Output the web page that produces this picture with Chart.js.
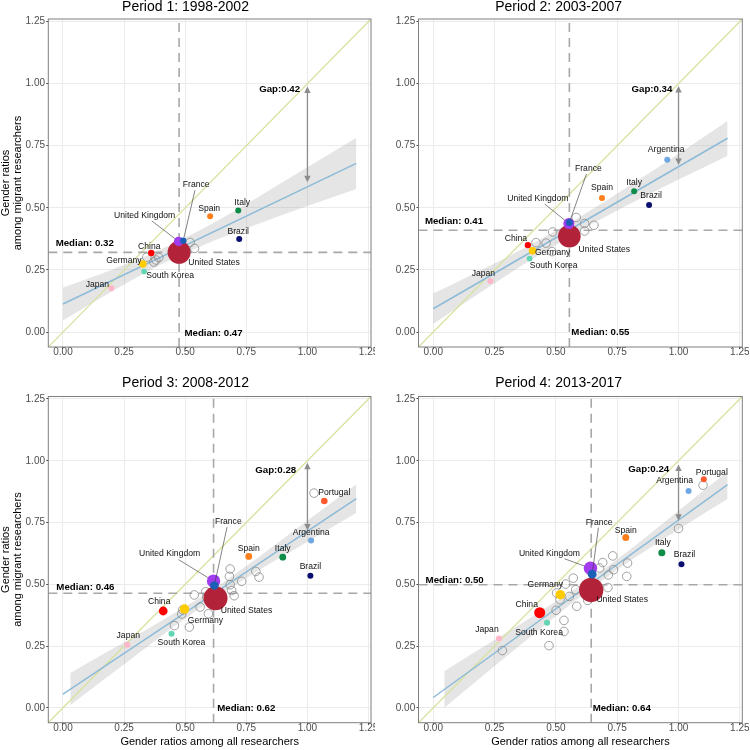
<!DOCTYPE html>
<html>
<head>
<meta charset="utf-8">
<script src="https://cdn.jsdelivr.net/npm/chart.js@4/dist/chart.umd.min.js"></script>
<style>
  body { margin: 0; background: #fff; }
  #wrap { position: relative; width: 750px; height: 750px; }
  canvas { position: absolute; }
</style>
</head>
<body>
<div id="wrap">
  <canvas id="c0" width="375" height="375" style="left:0;top:0"></canvas>
  <canvas id="c1" width="375" height="375" style="left:375px;top:0"></canvas>
  <canvas id="c2" width="375" height="375" style="left:0;top:375px"></canvas>
  <canvas id="c3" width="375" height="375" style="left:375px;top:375px"></canvas>
</div>
<script>
const tickValues = [0, 0.25, 0.5, 0.75, 1.0, 1.25];
const axisMin = -0.06, axisMax = 1.26;

const periods = ['Period 1: 1998-2002', 'Period 2: 2003-2007', 'Period 3: 2008-2012', 'Period 4: 2013-2017'];
const countries = ['United States', 'United Kingdom', 'France', 'China', 'Germany', 'South Korea',
                   'Japan', 'Spain', 'Italy', 'Brazil', 'Argentina', 'Portugal'];

// gender ratio among all researchers (x), one row per period, country order as above
const allRatio = [
    [0.475, 0.473, 0.492, 0.361, 0.327, 0.332, 0.198, 0.602, 0.717, 0.721, null, null],
    [0.555, 0.553, 0.555, 0.386, 0.405, 0.393, 0.233, 0.688, 0.819, 0.880, 0.954, null],
    [0.624, 0.616, 0.619, 0.410, 0.497, 0.444, 0.263, 0.760, 0.899, 1.012, 1.015, 1.069],
    [0.644, 0.641, 0.648, 0.434, 0.518, 0.464, 0.268, 0.785, 0.932, 1.012, 1.041, 1.103]
];
// gender ratio among migrant researchers (y)
const migRatio = [
    [0.321, 0.365, 0.368, 0.318, 0.274, 0.244, 0.176, 0.466, 0.489, 0.375, null, null],
    [0.386, 0.437, 0.441, 0.350, 0.327, 0.296, 0.206, 0.540, 0.567, 0.511, 0.694, null],
    [0.444, 0.513, 0.495, 0.392, 0.400, 0.300, 0.255, 0.613, 0.610, 0.535, 0.677, 0.837],
    [0.477, 0.565, 0.541, 0.385, 0.458, 0.344, 0.281, 0.689, 0.628, 0.581, 0.878, 0.925]
];
// bubble size (researcher volume), read as radius
const bubble = [
    [11.5, 4.7, 3.2, 3.2, 3.8, 2.8, 3.0, 3.0, 3.0, 3.0, null, null],
    [11.3, 5.5, 3.5, 3.2, 3.8, 2.9, 3.0, 3.0, 3.0, 3.0, 3.0, null],
    [12.0, 6.7, 4.3, 4.4, 4.8, 3.0, 3.0, 3.4, 3.4, 3.0, 3.0, 3.3],
    [12.2, 6.7, 4.4, 5.5, 4.8, 3.0, 3.0, 3.5, 3.5, 3.0, 3.0, 3.0]
];

// unlabelled countries (hollow circles)
const otherAll = [
    [0.343, 0.372, 0.380, 0.392, 0.520, 0.538],
    [0.487, 0.419, 0.460, 0.484, 0.583, 0.617, 0.617, 0.655],
    [1.027, 0.684, 0.681, 0.731, 0.684, 0.789, 0.802, 0.690, 0.700, 0.537, 0.584, 0.561, 0.595, 0.486, 0.456, 0.517, 0.490, 0.588],
    [1.100, 1.000, 0.732, 0.691, 0.792, 0.678, 0.735, 0.714, 0.789, 0.712, 0.571, 0.540, 0.555, 0.581, 0.585, 0.630, 0.501, 0.533, 0.533, 0.472, 0.282, 0.503, 0.517]
];
const otherMig = [
    [0.301, 0.282, 0.290, 0.300, 0.361, 0.337],
    [0.403, 0.360, 0.358, 0.324, 0.461, 0.437, 0.407, 0.430],
    [0.869, 0.562, 0.532, 0.512, 0.498, 0.552, 0.529, 0.475, 0.454, 0.457, 0.470, 0.408, 0.381, 0.380, 0.333, 0.327, 0.397, 0.448],
    [0.901, 0.726, 0.615, 0.588, 0.586, 0.566, 0.559, 0.538, 0.532, 0.487, 0.525, 0.501, 0.451, 0.478, 0.411, 0.435, 0.395, 0.354, 0.309, 0.252, 0.232, 0.465, 0.438]
];

const medAll = [0.475, 0.555, 0.616, 0.644];
const medMig = [0.321, 0.410, 0.464, 0.498];
const medAllText = ['0.47', '0.55', '0.62', '0.64'];
const medMigText = ['0.32', '0.41', '0.46', '0.50'];

// fitted line and its confidence band
const fitX = [0, 1.2];
const fitY = [[0.113, 0.679], [0.094, 0.780], [0.056, 0.847], [0.042, 0.903]];
const bandX = [
    [0, 0.2, 0.4, 0.6, 0.8, 1.0, 1.2],
    [0, 0.2, 0.4, 0.6, 0.8, 1.0, 1.2],
    [0.03, 0.2, 0.4, 0.6, 0.8, 1.0, 1.2],
    [0.045, 0.2, 0.4, 0.6, 0.8, 1.0, 1.2]
];
const bandHi = [
    [0.179, 0.251, 0.332, 0.431, 0.545, 0.663, 0.782],
    [0.155, 0.252, 0.354, 0.465, 0.589, 0.718, 0.850],
    [0.141, 0.237, 0.351, 0.471, 0.610, 0.758, 0.905],
    [0.148, 0.244, 0.367, 0.496, 0.639, 0.798, 0.955]
];
const bandLo = [
    [0.047, 0.163, 0.272, 0.361, 0.436, 0.507, 0.576],
    [0.033, 0.164, 0.292, 0.409, 0.515, 0.614, 0.710],
    [0.011, 0.139, 0.289, 0.431, 0.556, 0.672, 0.790],
    [0.000, 0.128, 0.291, 0.450, 0.593, 0.722, 0.845]
];

// gap arrow at x = 1
const gapText = ['0.42', '0.34', '0.28', '0.24'];
const gapTop = [0.988, 0.990, 0.992, 0.985];
const gapBottom = [0.603, 0.672, 0.718, 0.757];

// ---- styling / layout ----
const countryColors = ['#b2233a', '#a23cef', '#1c5fb6', '#ff0000', '#ffcc00', '#62d6b4',
                       '#ffb6c9', '#ff7f1c', '#0e8c48', '#0b1070', '#6fa7e2', '#ff5b2e'];

// label offsets in px from the point centre
const labelOffset = [
    [[35, 10], [-34, -26], [13, -56], [-2, -6], [-19, -3], [26, 4], [-14, -4], [-1, -8], [4, -8], [-1, -7]],
    [[35, 13], [-31, -25], [19, -54], [-12, -6], [20, 2], [24, 7], [-7, -7], [0, -10], [0, -9], [2, -9], [-1, -10]],
    [[31, 12], [-44, -27], [14, -64], [-4, -9], [21, 12], [10, 9], [1, -9], [0, -8], [0, -9], [0, -9], [0, -8], [10, -8]],
    [[31, 10], [-41, -15], [7, -52], [-13, -8], [-15, -10], [-8, 10], [-12, -9], [0, -7], [1, -10], [3, -10], [-14, -10], [8, -7]]
];
const medLabelPos = [
    { hx: -0.030, hy: 0.358, vx: 0.497, vy: -0.004, gx: 0.970, gy: 0.975 },
    { hx: -0.034, hy: 0.445, vx: 0.563, vy: -0.001, gx: 0.975, gy: 0.976 },
    { hx: -0.027, hy: 0.487, vx: 0.631, vy: 0.000, gx: 0.954, gy: 0.962 },
    { hx: -0.031, hy: 0.517, vx: 0.650, vy: 0.000, gx: 0.962, gy: 0.964 }
];
const panelBox = [
    { yW: 48.3, padR: 4, titleTop: 0.5, titlePad: 4.5, xH: 28 },
    { yW: 43.5, padR: 7.7, titleTop: 0.5, titlePad: 4.5, xH: 28 },
    { yW: 48.3, padR: 4, titleTop: 0.8, titlePad: 6.7, xH: 27.3 },
    { yW: 43.5, padR: 7.7, titleTop: 0.8, titlePad: 6.7, xH: 27.3 }
];

const FONT = '"Liberation Sans", Arial, sans-serif';
Chart.defaults.font.family = FONT;
Chart.defaults.color = '#4d4d4d';

function arrowHead(ctx, x, y, dir) {
    ctx.beginPath();
    ctx.moveTo(x, y);
    ctx.lineTo(x - 3.2, y + dir * 6.5);
    ctx.lineTo(x + 3.2, y + dir * 6.5);
    ctx.closePath();
    ctx.fill();
}

const annotate = {
    id: 'annotate',
    afterDatasetsDraw(chart, args, opts) {
        const i = opts.period;
        const { ctx, chartArea: a, scales: { x, y } } = chart;
        ctx.save();

        // gap arrow
        const ax = x.getPixelForValue(1);
        const yt = y.getPixelForValue(gapTop[i]);
        const yb = y.getPixelForValue(gapBottom[i]);
        ctx.strokeStyle = '#8c8c8c';
        ctx.fillStyle = '#8c8c8c';
        ctx.lineWidth = 1.3;
        ctx.beginPath();
        ctx.moveTo(ax, yt + 5);
        ctx.lineTo(ax, yb - 5);
        ctx.stroke();
        arrowHead(ctx, ax, yt, 1);
        arrowHead(ctx, ax, yb, -1);

        // country labels (with leader lines for UK and France)
        ctx.font = '8.6px ' + FONT;
        ctx.textAlign = 'center';
        ctx.textBaseline = 'middle';
        countries.forEach((name, k) => {
            if (allRatio[i][k] == null) return;
            const px = x.getPixelForValue(allRatio[i][k]);
            const py = y.getPixelForValue(migRatio[i][k]);
            const [dx, dy] = labelOffset[i][k];
            const lx = px + dx, ly = py + dy;
            if (k === 1 || k === 2) {
                const vx = px - lx, vy = py - ly;
                const len = Math.hypot(vx, vy);
                const hw = ctx.measureText(name).width / 2 + 1, hh = 5.5;
                const t = Math.min(hw / Math.abs(vx || 1e-6), hh / Math.abs(vy || 1e-6));
                ctx.strokeStyle = '#333';
                ctx.lineWidth = 0.6;
                ctx.beginPath();
                ctx.moveTo(lx + vx * t, ly + vy * t);
                ctx.lineTo(px - vx / len * bubble[i][k], py - vy / len * bubble[i][k]);
                ctx.stroke();
            }
            ctx.fillStyle = '#111';
            ctx.fillText(name, lx, ly);
        });

        // median and gap labels
        const m = medLabelPos[i];
        ctx.font = 'bold 9.7px ' + FONT;
        ctx.fillStyle = '#000';
        ctx.textAlign = 'left';
        ctx.fillText('Median: ' + medMigText[i], x.getPixelForValue(m.hx), y.getPixelForValue(m.hy));
        ctx.fillText('Median: ' + medAllText[i], x.getPixelForValue(m.vx), y.getPixelForValue(m.vy));
        ctx.textAlign = 'right';
        ctx.fillText('Gap:' + gapText[i], x.getPixelForValue(m.gx), y.getPixelForValue(m.gy));

        // panel border
        ctx.strokeStyle = '#7f7f7f';
        ctx.lineWidth = 1;
        ctx.strokeRect(a.left, a.top, a.right - a.left, a.bottom - a.top);
        ctx.restore();
    }
};

function makePanel(i) {
    const box = panelBox[i];
    const leftCol = i % 2 === 0;
    const bottomRow = i >= 2;

    const pts = countries
        .map((c, k) => ({ x: allRatio[i][k], y: migRatio[i][k], k }))
        .filter(p => p.x != null);
    const others = otherAll[i].map((v, j) => ({ x: v, y: otherMig[i][j] }));

    new Chart(document.getElementById('c' + i).getContext('2d'), {
        type: 'scatter',
        data: {
            datasets: [
                {
                    data: pts,
                    pointRadius: pts.map(p => bubble[i][p.k]),
                    pointBackgroundColor: pts.map(p => countryColors[p.k]),
                    pointBorderWidth: 0
                },
                {
                    data: others,
                    pointRadius: 4.3,
                    pointBackgroundColor: 'rgba(0,0,0,0)',
                    pointBorderColor: '#8a8a8a',
                    pointBorderWidth: 0.8
                },
                {
                    type: 'line',
                    data: [{ x: medAll[i], y: axisMin }, { x: medAll[i], y: axisMax }],
                    borderColor: '#a8a8a8',
                    borderWidth: 1.6,
                    borderDash: [9, 6],
                    pointRadius: 0
                },
                {
                    type: 'line',
                    data: [{ x: axisMin, y: medMig[i] }, { x: axisMax, y: medMig[i] }],
                    borderColor: '#a8a8a8',
                    borderWidth: 1.6,
                    borderDash: [9, 6],
                    pointRadius: 0
                },
                {
                    type: 'line',
                    data: fitX.map((v, j) => ({ x: v, y: fitY[i][j] })),
                    borderColor: '#8dbbd8',
                    borderWidth: 1.5,
                    pointRadius: 0
                },
                {
                    type: 'line',
                    data: [{ x: axisMin, y: axisMin }, { x: axisMax, y: axisMax }],
                    borderColor: '#d8e2a0',
                    borderWidth: 1.3,
                    pointRadius: 0
                },
                {
                    type: 'line',
                    data: bandX[i].map((v, j) => ({ x: v, y: bandHi[i][j] })),
                    borderWidth: 0,
                    pointRadius: 0,
                    cubicInterpolationMode: 'monotone',
                    fill: '+1',
                    backgroundColor: 'rgba(153,153,153,0.25)'
                },
                {
                    type: 'line',
                    data: bandX[i].map((v, j) => ({ x: v, y: bandLo[i][j] })),
                    borderWidth: 0,
                    pointRadius: 0,
                    cubicInterpolationMode: 'monotone',
                    fill: false
                }
            ]
        },
        options: {
            responsive: false,
            animation: false,
            events: [],
            layout: { autoPadding: false, padding: { left: 0, right: box.padR, top: 0, bottom: 0 } },
            plugins: {
                legend: { display: false },
                tooltip: { enabled: false },
                title: {
                    display: true,
                    text: periods[i],
                    color: '#000',
                    font: { size: 14, weight: 'normal', lineHeight: 1 },
                    padding: { top: box.titleTop, bottom: box.titlePad }
                },
                annotate: { period: i }
            },
            scales: {
                x: {
                    type: 'linear',
                    min: axisMin,
                    max: axisMax,
                    afterBuildTicks: s => { s.ticks = tickValues.map(v => ({ value: v })); },
                    afterFit: s => { s.height = box.xH; s.paddingLeft = 0; s.paddingRight = 0; },
                    grid: { color: '#ebebeb', lineWidth: 1, tickColor: '#444', tickLength: 2 },
                    border: { display: false },
                    ticks: {
                        padding: -2.3,
                        color: '#4d4d4d',
                        font: { size: 10, lineHeight: 1.2 },
                        callback: v => v.toFixed(2)
                    },
                    title: {
                        display: bottomRow,
                        text: 'Gender ratios among all researchers',
                        color: '#000',
                        font: { size: 11, lineHeight: 1.1 },
                        padding: { top: 0, bottom: 2 }
                    }
                },
                y: {
                    type: 'linear',
                    min: axisMin,
                    max: axisMax,
                    afterBuildTicks: s => { s.ticks = tickValues.map(v => ({ value: v })); },
                    afterFit: s => { s.width = box.yW; s.paddingTop = 0; s.paddingBottom = 0; },
                    grid: { color: '#ebebeb', lineWidth: 1, tickColor: '#444', tickLength: 2 },
                    border: { display: false },
                    ticks: {
                        padding: 1.3,
                        color: '#4d4d4d',
                        font: { size: 10, lineHeight: 1.2 },
                        callback: v => v.toFixed(2)
                    },
                    title: {
                        display: leftCol,
                        text: ['Gender ratios', 'among migrant researchers'],
                        color: '#000',
                        font: { size: 11, lineHeight: 1.1 },
                        padding: { top: 0, bottom: 0 }
                    }
                }
            }
        },
        plugins: [annotate]
    });
}

[0, 1, 2, 3].forEach(makePanel);
</script>
</body>
</html>
